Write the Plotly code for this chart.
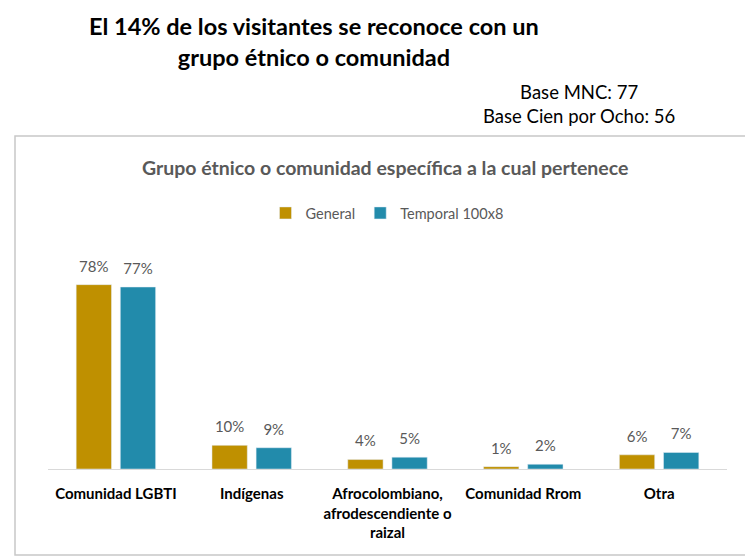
import plotly.graph_objects as go

categories = [
    "Comunidad LGBTI",
    "Indígenas",
    "Afrocolombiano,<br>afrodescendiente o<br>raizal",
    "Comunidad Rrom",
    "Otra",
]
general = [78, 10, 4, 1, 6]
temporal = [77, 9, 5, 2, 7]

# the page body adds an 8px offset, targets below are screen pixels
OFF = 8
W, H = 753, 557
L, R, T, B = 40, 34, 227, 96


def px_x(x):
    return (x - OFF - L) / (W - L - R)


def px_y(y):
    return (H - B - (y - OFF)) / (H - T - B)


font = "Lato, 'Open Sans', sans-serif"
gray = "#595959"
# small base size so the empty second line lifts the label a little
label = "<span style='font-size:15px'>%{y}%</span><br> "

fig = go.Figure()
fig.add_trace(go.Bar(
    name="General", x=categories, y=general,
    marker_color="#BF9000",
    texttemplate=label, textposition="outside",
    textfont=dict(size=7, color=gray),
))
fig.add_trace(go.Bar(
    name="Temporal 100x8", x=categories, y=temporal,
    marker_color="#228BAB",
    texttemplate=label, textposition="outside",
    textfont=dict(size=7, color=gray),
))

fig.update_layout(
    width=W, height=H,
    margin=dict(l=L, r=R, t=T, b=B, autoexpand=False),
    paper_bgcolor="white",
    plot_bgcolor="white",
    font=dict(family=font, color=gray),
    barmode="group",
    bargap=0.35,
    bargroupgap=0.2,
    showlegend=True,
    legend=dict(
        orientation="h",
        x=px_x(387), y=px_y(213),
        xanchor="center", yanchor="middle",
        font=dict(size=14.5, color=gray),
        itemwidth=30,
    ),
    xaxis=dict(
        automargin=False,
        showline=True, linecolor="#d9d9d9", linewidth=1,
        ticks="outside", ticklen=11, tickcolor="rgba(0,0,0,0)",
        tickfont=dict(size=15, color="black", family=font, weight="bold"),
        showgrid=False,
    ),
    yaxis=dict(
        automargin=False,
        range=[0, 99], visible=False, showgrid=False,
    ),
    shapes=[dict(
        type="rect", xref="paper", yref="paper",
        x0=px_x(15), x1=px_x(748), y0=px_y(555), y1=px_y(136),
        line=dict(color="#c8c8c8", width=1.5), layer="below",
    )],
    annotations=[
        dict(
            text="<b>El 14% de los visitantes se reconoce con un<br>grupo étnico o comunidad</b>",
            xref="paper", yref="paper", x=px_x(314), y=px_y(41),
            xanchor="center", yanchor="middle", showarrow=False,
            font=dict(size=23.5, color="black"), align="center",
        ),
        dict(
            text="Base MNC: 77<br>Base Cien por Ocho: 56",
            xref="paper", yref="paper", x=px_x(579), y=px_y(104),
            xanchor="center", yanchor="middle", showarrow=False,
            font=dict(size=18.5, color="black"), align="center",
        ),
        dict(
            text="<b>Grupo étnico o comunidad específica a la cual pertenece</b>",
            xref="paper", yref="paper", x=px_x(385), y=px_y(168),
            xanchor="center", yanchor="middle", showarrow=False,
            font=dict(size=19.5, color=gray),
        ),
    ],
)

fig.write_html("out.html")
